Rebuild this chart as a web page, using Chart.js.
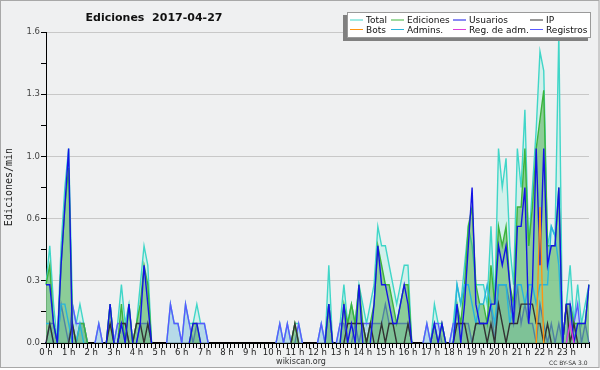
<!DOCTYPE html>
<html>
<head>
<meta charset="utf-8">
<script src="https://cdn.jsdelivr.net/npm/chart.js@4.4.0/dist/chart.umd.min.js"></script>
<style>
  html, body { margin: 0; padding: 0; background: #fff; }
  #wrap { width: 600px; height: 370px; }
</style>
</head>
<body>
<div id="wrap"><canvas id="chart" width="600" height="370"></canvas></div>
<script>
  // etiquetas de las horas (eje x), un punto cada 10 minutos
  const hourLabels = ['0 h','1 h','2 h','3 h','4 h','5 h','6 h','7 h','8 h','9 h','10 h','11 h',
                      '12 h','13 h','14 h','15 h','16 h','17 h','18 h','19 h','20 h','21 h','22 h','23 h'];

  const seriesNames = ['Total', 'Ediciones', 'Usuarios', 'IP', 'Bots', 'Admins.', 'Reg. de adm.', 'Registros'];

  // ediciones por minuto, una fila por hora
  const total = [
    .3,.5,.2,0,.5,.8,  1.0,.2,.1,.2,.1,0,  0,0,.1,0,0,.2,  0,.1,.3,.1,.2,0,
    .1,.3,.5,.4,0,0,  0,0,0,.2,.1,.1,  0,.2,.1,.1,.2,.1,  .1,0,0,0,0,0,
    0,0,0,0,0,0,  0,0,0,0,0,0,  0,0,.1,0,.1,0,  .1,.1,0,0,0,0,
    0,.1,0,.4,0,0,  .1,.3,.1,.2,.1,.3,  .2,.1,.2,.3,.6,.5,  .5,.4,.3,.2,.3,.4,
    .4,0,0,0,0,.1,  0,.2,.1,.1,0,0,  .1,.3,.2,.4,.6,.5,  .3,.3,.3,.2,.6,.2,
    1.0,.8,.95,.5,.3,1.0,  .8,1.2,.5,.8,1.1,1.5,  1.4,.5,.6,.55,1.6,0,  .2,.4,.1,.3,.1,.2,
    .3
  ];
  const ediciones = [
    .3,.4,.1,0,.4,.7,  .9,.1,0,.1,.1,0,  0,0,0,0,0,.2,  0,0,.2,0,.2,0,
    .1,.2,.4,.3,0,0,  0,0,0,0,0,0,  0,0,0,.1,.1,0,  0,0,0,0,0,0,
    0,0,0,0,0,0,  0,0,0,0,0,0,  0,0,0,0,0,0,  .1,0,0,0,0,0,
    0,0,0,.2,0,0,  0,.2,.1,.2,.1,.3,  .1,0,.1,.2,.5,.4,  .3,.3,.2,.1,.2,.3,
    .3,0,0,0,0,0,  0,.1,0,.1,0,0,  0,.2,.1,.3,.6,.7,  .3,.2,.2,.1,.4,.2,
    .6,.5,.6,.3,.2,.7,  .7,1.0,.5,.7,1.0,1.15,  1.3,.5,.5,.5,.8,0,  .2,.2,.1,.1,.1,.1,
    .3
  ];
  const usuarios = [
    .3,.3,.1,0,.4,.7,  1.0,0,0,0,0,0,  0,0,0,0,0,.2,  0,0,.1,0,.2,0,
    0,.1,.4,.2,0,0,  0,0,0,0,0,0,  0,0,0,.1,.1,0,  0,0,0,0,0,0,
    0,0,0,0,0,0,  0,0,0,0,0,0,  0,0,0,0,0,0,  0,0,0,0,0,0,
    0,0,0,.2,0,0,  0,.2,0,.1,0,.3,  0,0,0,.2,.5,.3,  .3,.2,.1,.1,.2,.3,
    .2,0,0,0,0,0,  0,.1,0,.1,0,0,  0,.2,0,.2,.5,.8,  .2,.1,.1,.1,.2,.2,
    .5,.4,.5,.3,.1,.6,  .6,.8,.1,.3,1.0,.4,  1.0,.4,.5,.5,.8,0,  .2,.2,0,.1,.1,.1,
    .3
  ];
  const ip = [
    0,.1,0,0,0,0,  0,.1,0,0,0,0,  0,0,0,0,0,.1,  0,0,.1,.1,0,0,
    .1,.1,0,.1,0,0,  0,0,0,0,0,0,  0,0,0,0,0,0,  0,0,0,0,0,0,
    0,0,0,0,0,0,  0,0,0,0,0,0,  0,0,0,0,0,0,  .1,0,0,0,0,0,
    0,0,0,0,0,0,  0,0,.1,.1,.1,.1,  .1,0,.1,0,0,.1,  0,.1,.1,0,0,0,
    .1,0,0,0,0,0,  0,0,0,0,0,0,  0,.1,.1,.1,0,0,  .1,.1,.1,0,.1,0,
    .2,.1,0,.1,.1,.1,  .2,.2,.2,.2,.1,.1,  0,.1,0,0,0,0,  .2,0,.1,0,0,0,
    0
  ];
  const bots = [
    0,0,0,0,0,0,  0,0,0,0,0,0,  0,0,0,0,0,0,  0,0,0,0,0,0,
    0,0,0,0,0,0,  0,0,0,0,0,0,  0,0,0,0,0,0,  0,0,0,0,0,0,
    0,0,0,0,0,0,  0,0,0,0,0,0,  0,0,0,0,0,0,  0,0,0,0,0,0,
    0,0,0,0,0,0,  0,0,0,0,0,0,  0,0,0,0,0,0,  0,0,0,0,0,0,
    0,0,0,0,0,0,  0,0,0,0,0,0,  0,0,0,0,0,0,  0,0,0,0,0,0,
    0,0,0,0,0,0,  0,0,0,0,0,.7,  0,0,0,0,0,0,  0,0,0,0,0,0,
    0
  ];
  const admins = [
    .1,.1,0,0,.2,.2,  .1,0,0,.1,0,0,  0,0,0,0,0,0,  0,0,0,0,0,0,
    0,0,0,0,0,0,  0,0,0,0,0,0,  0,0,0,0,0,0,  0,0,0,0,0,0,
    0,0,0,0,0,0,  0,0,0,0,0,0,  0,0,0,0,0,0,  0,0,0,0,0,0,
    0,0,0,0,0,0,  0,0,0,0,0,0,  0,0,0,0,0,0,  0,0,0,0,0,0,
    0,0,0,0,0,0,  0,0,0,0,0,0,  0,.3,.2,.3,.3,.2,  .1,.2,.2,.3,.2,.1,
    .3,.3,.3,.1,.2,.3,  .3,.2,.3,.3,.2,.3,  .3,.3,.6,.55,.4,0,  0,0,0,0,0,0,
    0
  ];
  const regAdm = [
    0,0,0,0,0,0,  0,0,0,0,0,0,  0,0,0,0,0,0,  0,0,0,0,0,0,
    0,0,0,0,0,0,  0,0,0,0,0,0,  0,0,0,0,0,0,  0,0,0,0,0,0,
    0,0,0,0,0,0,  0,0,0,0,0,0,  0,0,0,0,0,0,  0,0,0,0,0,0,
    0,0,0,0,0,0,  0,0,0,0,0,0,  0,0,0,0,0,0,  0,0,0,0,0,0,
    0,0,0,0,0,0,  0,0,0,0,0,0,  0,0,0,0,0,0,  0,0,0,0,0,0,
    0,0,0,0,0,0,  0,0,0,0,0,0,  0,0,0,0,0,0,  0,.1,0,0,0,0,
    0
  ];
  const registros = [
    0,.1,.1,0,.2,.1,  0,.2,.1,.1,.1,0,  0,0,.1,0,0,0,  0,.1,.1,.1,0,0,
    0,.1,.1,.1,0,0,  0,0,0,.2,.1,.1,  0,.2,.1,0,.1,.1,  .1,0,0,0,0,0,
    0,0,0,0,0,0,  0,0,0,0,0,0,  0,0,.1,0,.1,0,  0,.1,0,0,0,0,
    0,.1,0,.2,0,0,  .1,.1,0,0,.1,0,  .1,.1,.1,.1,.1,.1,  .2,.1,.1,.1,.1,.1,
    .1,0,0,0,0,.1,  0,.1,.1,0,0,0,  .1,.1,.1,.1,.1,0,  .1,.1,.1,.1,.2,0,
    .3,.3,.3,.2,.1,.3,  .1,.2,.1,.1,0,.2,  .1,0,.1,0,.1,0,  0,.2,.1,.2,0,.1,
    0
  ];

  // categorías: una etiqueta por hora y cinco vacías entre ellas
  const times = [];
  hourLabels.forEach(h => {
    times.push(h);
    for (let k = 0; k < 5; k++) times.push('');
  });
  times.push('');

  const lineColors = ['#40d6c8', '#3cb43c', '#1414e6', '#333333', '#ff9410', '#28b4dc', '#dc3cdc', '#5a5aff'];
  const fillColors = ['rgba(200,240,232,0.75)', 'rgba(70,170,70,0.5)', null, null, null, null, null, 'rgba(120,170,225,0.3)'];
  const drawOrder = [8, 6, 3, 4, 1, 5, 2, 7];
  const values = [total, ediciones, usuarios, ip, bots, admins, regAdm, registros];

  // los tramos sobre la línea de cero quedan tapados por el eje
  const hideZero = color => ctx => (ctx.p0.parsed.y === 0 && ctx.p1.parsed.y === 0) ? 'rgba(0,0,0,0)' : color;

  const datasets = seriesNames.map((name, i) => ({
    label: name,
    data: values[i],
    borderColor: lineColors[i],
    backgroundColor: fillColors[i] || lineColors[i],
    fill: fillColors[i] ? 'origin' : false,
    borderWidth: 1.4,
    pointRadius: 0,
    tension: 0,
    order: drawOrder[i],
    segment: { borderColor: hideZero(lineColors[i]) }
  }));

  // fondo, título, leyenda y textos
  const decor = {
    id: 'decor',
    beforeDraw(chart) {
      const c = chart.ctx;
      c.save();
      c.fillStyle = '#fff';
      c.fillRect(0, 0, 600, 370);
      c.fillStyle = '#eff0f1';
      c.fillRect(0, 0, 600, 368);
      c.strokeStyle = '#a8a8a8';
      c.lineWidth = 1;
      c.strokeRect(0.5, 0.5, 598.5, 367);
      c.restore();
    },
    afterDraw(chart) {
      const c = chart.ctx;
      c.save();
      c.fillStyle = '#111';
      c.font = 'bold 11px "DejaVu Sans"';
      c.textAlign = 'center';
      c.textBaseline = 'alphabetic';
      c.fillText('Ediciones  2017-04-27', 154, 21);

      // eje y
      c.save();
      c.translate(12, 187);
      c.rotate(-Math.PI / 2);
      c.font = '10px "DejaVu Sans Mono"';
      c.fillStyle = '#222';
      c.fillText('Ediciones/min', 0, 0);
      c.restore();

      c.font = '8px "DejaVu Sans"';
      c.fillStyle = '#333';
      c.fillText('wikiscan.org', 301, 364);
      c.font = '6px "DejaVu Sans"';
      c.textAlign = 'left';
      c.fillText('CC BY-SA 3.0', 549, 365);

      // leyenda
      c.fillStyle = '#808080';
      c.fillRect(343, 15, 245, 26);
      c.fillStyle = '#fff';
      c.fillRect(347, 12, 244, 26);
      c.strokeStyle = '#9a9a9a';
      c.strokeRect(347.5, 12.5, 243, 25);
      const colX = [350, 391, 453, 530];
      const rowY = [19.5, 29];
      c.font = '9px "DejaVu Sans"';
      c.textAlign = 'left';
      seriesNames.forEach((name, i) => {
        const x = colX[i % 4], y = rowY[Math.floor(i / 4)];
        c.strokeStyle = lineColors[i];
        c.lineWidth = 1;
        c.beginPath();
        c.moveTo(x, y + 0.5);
        c.lineTo(x + 13, y + 0.5);
        c.stroke();
        c.fillStyle = '#111';
        c.fillText(name, x + 16, y + 3.5);
      });
      c.restore();
    }
  };

  new Chart(document.getElementById('chart'), {
    type: 'line',
    data: { labels: times, datasets: datasets },
    options: {
      responsive: false,
      animation: false,
      devicePixelRatio: 1,
      layout: { padding: { top: 32, right: 11, left: 0, bottom: 0 } },
      plugins: { legend: { display: false }, title: { display: false }, tooltip: { enabled: false } },
      scales: {
        x: {
          type: 'category',
          offset: false,
          grid: { display: true, drawOnChartArea: false, tickLength: 5, tickColor: '#000' },
          border: { color: '#000', width: 2 },
          ticks: {
            autoSkip: false, maxRotation: 0, minRotation: 0, padding: 0,
            color: '#222', font: { family: 'DejaVu Sans', size: 8.5 }
          },
          afterFit(scale) { scale.height = 27; }
        },
        y: {
          min: 0,
          max: 1.6,
          grid: {
            color: ctx => (ctx.index % 2 === 0 && ctx.index > 0) ? '#c8c8c8' : 'rgba(0,0,0,0)',
            tickColor: '#000',
            tickLength: 5
          },
          border: { color: '#000', width: 1 },
          ticks: {
            stepSize: 0.16,
            padding: 1,
            color: '#444',
            font: { family: 'DejaVu Sans', size: 8.5 },
            callback: (v, i) => (i % 2 ? '' : v.toFixed(1))
          },
          afterFit(scale) { scale.width = 46; }
        }
      }
    },
    plugins: [decor]
  });
</script>
</body>
</html>
